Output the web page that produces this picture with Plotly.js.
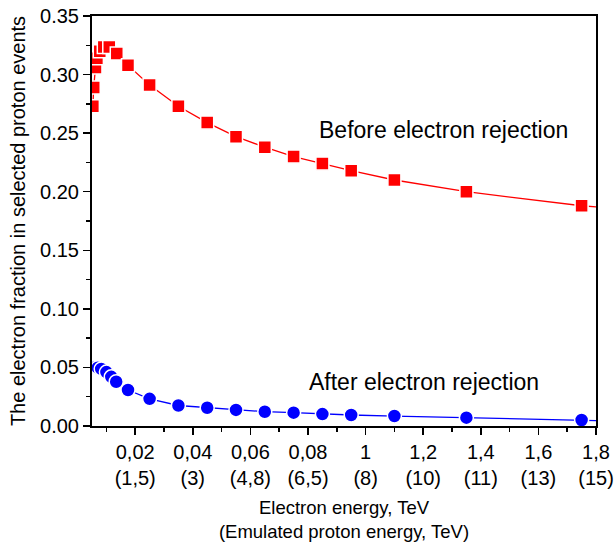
<!DOCTYPE html>
<html>
<head>
<meta charset="utf-8">
<script src="https://cdn.plot.ly/plotly-3.0.1.min.js"></script>
<style>html,body{margin:0;padding:0;background:#fff;}#chart{width:616px;height:542px;}</style>
</head>
<body>
<div id="chart"></div>
<script>
// Electron energy (TeV, axis units as labelled)
const redX = [0.053, 0.056, 0.062, 0.067, 0.077, 0.091, 0.11, 0.136, 0.175, 0.25, 0.35, 0.45, 0.55, 0.65, 0.75, 0.85, 0.95, 1.1, 1.35, 1.75, 1.85];
const redY = [0.273, 0.289, 0.306, 0.314, 0.320, 0.3235, 0.3235, 0.318, 0.308, 0.291, 0.273, 0.259, 0.247, 0.238, 0.230, 0.224, 0.218, 0.210, 0.200, 0.188, 0.186];
const blueX = [0.05, 0.055, 0.061, 0.07, 0.082, 0.1, 0.117, 0.134, 0.175, 0.25, 0.35, 0.45, 0.55, 0.65, 0.75, 0.85, 0.95, 1.1, 1.35, 1.75, 1.85];
const blueY = [0.0495, 0.050, 0.050, 0.0498, 0.0487, 0.046, 0.042, 0.0378, 0.0307, 0.0232, 0.0175, 0.0156, 0.0137, 0.0122, 0.0114, 0.0102, 0.0094, 0.0085, 0.0071, 0.0051, 0.0044];

const tickVals = [0.2, 0.4, 0.6, 0.8, 1.0, 1.2, 1.4, 1.6, 1.8];
const tickTop = ["0,02", "0,04", "0,06", "0,08", "1", "1,2", "1,4", "1,6", "1,8"];
const tickBottom = ["(1,5)", "(3)", "(4,8)", "(6,5)", "(8)", "(10)", "(11)", "(13)", "(15)"];
const tickText = tickTop.map((t, i) => t + "<br>" + tickBottom[i]);

const labelBefore = "Before electron rejection";
const labelAfter = "After electron rejection";

const FONT = "Liberation Sans, Arial, sans-serif";

const traces = [
  {
    x: redX, y: redY, type: "scatter", mode: "lines+markers",
    line: {color: "#ff0000", width: 1.3},
    marker: {symbol: "square", size: 13, color: "#ff0000", line: {color: "#ffffff", width: 1.5}},
    showlegend: false
  },
  {
    x: blueX, y: blueY, type: "scatter", mode: "lines+markers",
    line: {color: "#0000ff", width: 1.3},
    marker: {symbol: "circle", size: 14, color: "#0000ff", line: {color: "#ffffff", width: 1.5}},
    showlegend: false
  }
];

const layout = {
  width: 616, height: 542,
  margin: {l: 92, r: 20, t: 16, b: 116},
  paper_bgcolor: "#ffffff", plot_bgcolor: "#ffffff",
  font: {family: FONT, size: 20, color: "#000000"},
  xaxis: {
    range: [0.05, 1.8],
    tickmode: "array", tickvals: tickVals, ticktext: tickText,
    ticks: "outside", ticklen: 7, tickwidth: 1.5, tickcolor: "#000",
    minor: {tickmode: "linear", tick0: 0.1, dtick: 0.2, ticks: "outside", ticklen: 4, tickwidth: 1.5, tickcolor: "#000"},
    showline: true, linecolor: "#000", linewidth: 2, mirror: true,
    showgrid: false, zeroline: false,
    tickfont: {family: FONT, size: 20},
    title: {text: "Electron energy, TeV<br>(Emulated proton energy, TeV)", font: {family: FONT, size: 18.5}, standoff: 14}
  },
  yaxis: {
    range: [0, 0.35],
    tickmode: "linear", tick0: 0, dtick: 0.05, tickformat: ".2f",
    ticks: "outside", ticklen: 7, tickwidth: 1.5, tickcolor: "#000",
    minor: {tickmode: "linear", tick0: 0.025, dtick: 0.05, ticks: "outside", ticklen: 4, tickwidth: 1.5, tickcolor: "#000"},
    showline: true, linecolor: "#000", linewidth: 2, mirror: true,
    showgrid: false, zeroline: false,
    tickfont: {family: FONT, size: 20},
    title: {text: "The electron fraction in selected proton events", font: {family: FONT, size: 20}, standoff: 9}
  },
  annotations: [
    {x: 1.271, y: 0.2527, xref: "x", yref: "y", text: labelBefore, showarrow: false, font: {family: FONT, size: 23, color: "#000"}},
    {x: 1.2035, y: 0.0376, xref: "x", yref: "y", text: labelAfter, showarrow: false, font: {family: FONT, size: 23, color: "#000"}}
  ]
};

Plotly.newPlot("chart", traces, layout, {displayModeBar: false, staticPlot: true});
</script>
</body>
</html>
